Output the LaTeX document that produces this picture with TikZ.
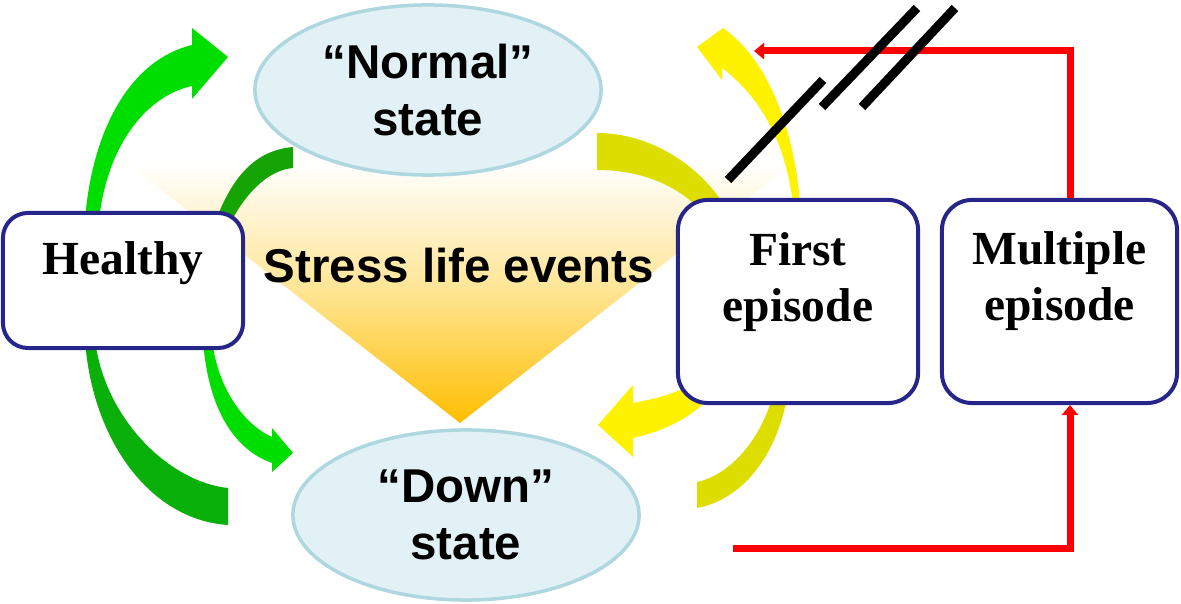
\documentclass[tikz,border=0pt]{standalone}
\usepackage{fontspec}
\setmainfont{Liberation Serif}
\setsansfont{Liberation Sans}
\usetikzlibrary{shapes.geometric,arrows.meta}
\definecolor{statefill}{RGB}{226,241,245}
\definecolor{stateline}{RGB}{174,215,223}
\definecolor{boxline}{RGB}{38,38,138}
\definecolor{lightgreen}{RGB}{0,222,0}
\definecolor{deepgreen}{RGB}{10,176,10}
\definecolor{arcgreen}{RGB}{22,164,4}
\definecolor{oliveyellow}{RGB}{221,221,0}
\definecolor{stressorange}{RGB}{255,190,0}
\definecolor{stressmid}{RGB}{255,228,145}

\begin{document}
\begin{tikzpicture}[x=0.01cm, y=-0.01cm,
  statebox/.style={ellipse, draw=stateline, fill=statefill, line width=0.035cm,
    minimum width=3.46cm, minimum height=1.7cm, inner sep=0pt, align=center,
    font=\sffamily\bfseries\fontsize{13.5}{16}\selectfont},
  roundbox/.style={draw=boxline, fill=white, line width=0.04cm, rounded corners=0.3cm,
    minimum width=2.4cm, minimum height=2.03cm},
  boxtxt/.style={align=center, font=\bfseries\fontsize{13.5}{16}\selectfont},
  redarrow/.style={red, line width=0.07cm, -{Triangle[length=0.1cm, width=0.16cm]}},
  breakmark/.style={line width=0.09cm},
]
\useasboundingbox (0,0) rectangle (1181,604);

% --- stress triangle ---
\shade[top color=white, bottom color=stressorange, middle color=stressmid]
  (127,163) -- (793,163) -- (460,423) -- cycle;
\node[font=\sffamily\bfseries\fontsize{13.5}{16}\selectfont] (stress) at (459,266) {Stress life events};

% --- states ---
\node[statebox] (normal) at (428,90) {“Normal”\\state};
\node[statebox] (down) at (466,515) {“Down”\\state};

% --- healthy side arrows ---
\fill[lightgreen] (85,220) .. controls (92,130) and (130,60) .. (192,45) -- (192,28) -- (228,57)
  -- (192,99) -- (192,86) .. controls (150,95) and (108,140) .. (99,220) -- cycle;
\fill[arcgreen] (216,220) .. controls (235,170) and (260,150) .. (293,147) -- (293,168)
  .. controls (270,170) and (248,190) .. (232,220) -- cycle;
\fill[deepgreen] (85,340) .. controls (92,440) and (150,520) .. (228,525) -- (228,488)
  .. controls (170,482) and (105,420) .. (95,340) -- cycle;
\fill[lightgreen] (203,340) .. controls (208,410) and (235,450) .. (272,463) -- (272,472) -- (293,453)
  -- (272,428) -- (272,437) .. controls (245,425) and (218,390) .. (212,340) -- cycle;

% --- episode side arrows ---
\fill[oliveyellow] (597,133) .. controls (650,133) and (700,165) .. (726,208) -- (700,210)
  .. controls (680,188) and (645,170) .. (597,170) -- cycle;
\fill[yellow] (793,205) .. controls (786,140) and (758,95) .. (722,68) -- (722,80) -- (697,47)
  -- (723,28) .. controls (772,62) and (796,140) .. (800,205) -- cycle;
\fill[yellow] (700,380) .. controls (680,392) and (660,398) .. (633,403) -- (633,385) -- (598,425)
  -- (633,457) -- (633,438) .. controls (660,432) and (690,420) .. (712,395) -- cycle;
\fill[oliveyellow] (787,398) .. controls (775,460) and (740,500) .. (697,508) -- (697,482)
  .. controls (730,475) and (760,440) .. (772,398) -- cycle;

% --- boxes ---
\node[roundbox, minimum height=1.35cm, rounded corners=0.25cm] (healthy) at (123,280.5) {};
\node[boxtxt, anchor=base] (healthytxt) at (123,275) {Healthy};
\node[roundbox] (first) at (798,301.5) {};
\node[boxtxt] (firsttxt) at (798,282) {First\\episode};
\node[roundbox, minimum width=2.35cm] (multiple) at (1059.5,301.5) {};
\node[boxtxt] (multipletxt) at (1059.5,281) {Multiple\\episode};

% --- recurrence lines ---
\coordinate (redcorner) at (1070,51);
\coordinate (redtip) at (754,51);
\coordinate (redstart) at (733,549);
\draw[redarrow] (multiple.north -| redcorner) -- (redcorner) -- (redtip);
\draw[redarrow] (redstart) -| (multiple.south -| redcorner);

% break marks
\draw[breakmark] (728,180) -- (823,80);
\draw[breakmark] (822,107) -- (917,8);
\draw[breakmark] (862,107) -- (955,8);
\end{tikzpicture}
\end{document}
